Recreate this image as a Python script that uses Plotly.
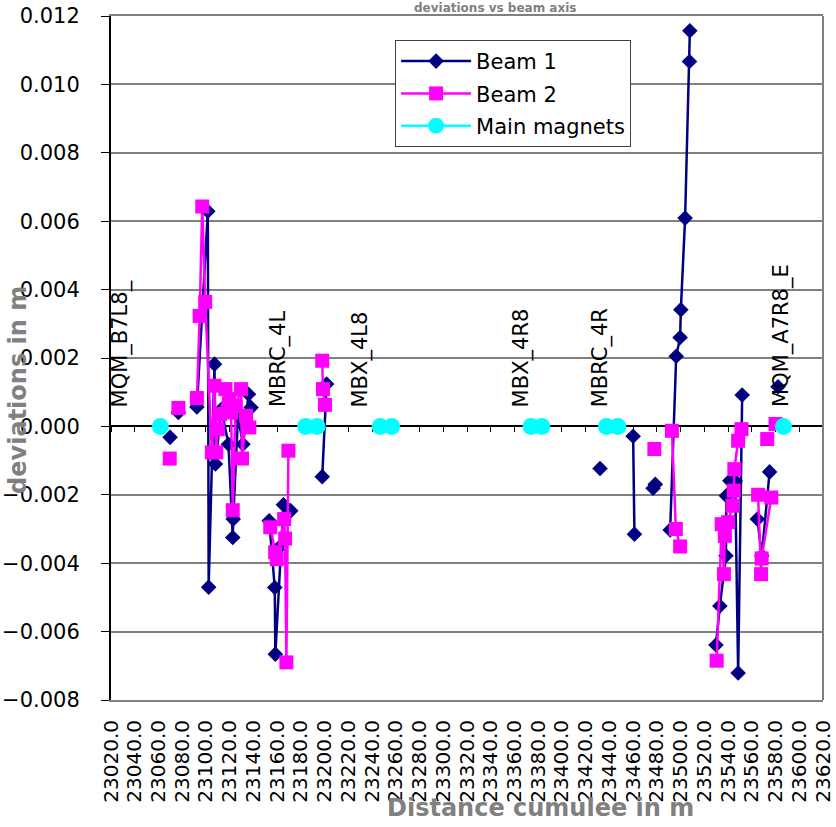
import plotly.graph_objects as go

# ---------------- data ----------------
beam1_x = [23069.8, None, 23076.8, None,
           23092.4, 23101.6, 23102.3, 23107.2, 23108.0, 23113.0, 23119.0, 23122.6, 23123.0, 23127.0, 23131.2, 23135.9, 23138.0, None,
           23153.3, 23158.0, 23158.5, 23163.0, 23165.3, 23171.5, None,
           23198.0, 23201.7, None,
           23432.1, None,
           23460.0, 23461.1, None,
           23476.8, 23478.7, None,
           23491.2, 23496.3, 23499.6, 23500.2, 23503.8, 23507.5, 23507.8, None,
           23529.8, 23533.1, 23538.2, 23538.6, 23541.5, 23546.0, 23548.5, 23551.9, None,
           23564.7, 23568.4, 23575.0, None,
           23582.1]
beam1_y = [-0.00032, None, 0.00041, None,
           0.00057, 0.00629, -0.0047, 0.00182, -0.0011, 0.0005, -0.00052, -0.00325, -0.00271, 0.0003, -0.00052, 0.00094, 0.00055, None,
           -0.00276, -0.00471, -0.00666, -0.0035, -0.00229, -0.00247, None,
           -0.00147, 0.00124, None,
           -0.00123, None,
           -0.00029, -0.00315, None,
           -0.00181, -0.00169, None,
           -0.00303, 0.00205, 0.0026, 0.00341, 0.00609, 0.01067, 0.01157, None,
           -0.00639, -0.00525, -0.00378, -0.00203, -0.00159, -0.0016, -0.00721, 0.00092, None,
           -0.00271, -0.00378, -0.00133, None,
           0.00116]

beam2_x = [23069.5, None, 23076.8, None,
           23092.4, 23094.7, 23096.9, 23099.4, 23105.0, 23107.2, 23108.7, 23110.0, 23112.0, 23116.4, 23119.8, 23121.2, 23122.6, 23125.0, 23129.6, 23130.4, 23133.8, 23136.6, None,
           23154.2, 23158.3, 23159.7, 23165.9, 23166.7, 23167.8, 23169.5, None,
           23198.0, 23198.6, 23200.3, None,
           23477.9, None,
           23492.7, 23496.0, 23499.6, None,
           23530.4, 23534.6, 23536.5, 23537.3, 23540.0, 23543.7, 23544.8, 23545.3, 23548.5, 23551.3, None,
           23565.3, 23567.8, 23568.3, 23576.4, None,
           23573.0, None,
           23580.0]
beam2_y = [-0.00094, None, 0.00054, None,
           0.00083, 0.00323, 0.00643, 0.00364, -0.00076, 0.00119, -0.00076, -0.00008, 0.00036, 0.00109, 0.0008, 0.00041, -0.00245, 0.0006, 0.00109, -0.00094, 0.00031, -0.00003, None,
           -0.00295, -0.00368, -0.00388, -0.00271, -0.00328, -0.0069, -0.00071, None,
           0.00192, 0.00109, 0.00063, None,
           -0.00066, None,
           -0.00013, -0.003, -0.00351, None,
           -0.00685, -0.00286, -0.00432, -0.0032, -0.0028, -0.00232, -0.00188, -0.00125, -0.00042, -0.00008, None,
           -0.002, -0.00432, -0.00386, -0.00208, None,
           -0.00037, None,
           0.00007]

magnets_x = [23061.6, None, 23184.0, 23193.7, None, 23246.8, 23256.5, None,
             23373.9, 23383.1, None, 23437.5, 23447.1, None, 23586.7]
magnets_y = [0.0, None, 0.0, 0.0, None, 0.0, 0.0, None,
             0.0, 0.0, None, 0.0, 0.0, None, 0.0]

magnet_labels = ["MQM_B7L8_", "MBRC_4L", "MBX_4L8", "MBX_4R8", "MBRC_4R", "MQM_A7R8_E"]
magnet_label_x = [23028.1, 23161.0, 23230.0, 23366.0, 23432.5, 23585.6]

title_text = "deviations vs beam axis"
x_title = "Distance cumulee in m"
y_title = "deviations in m"

# ---------------- figure ----------------
fig = go.Figure()
fig.add_trace(go.Scatter(
    x=beam1_x, y=beam1_y, mode="lines+markers", name="Beam 1", legendgroup="g1",
    line=dict(color="#000080", width=2.5),
    marker=dict(symbol="diamond", size=12, color="#000080"),
    connectgaps=False))
fig.add_trace(go.Scatter(
    x=beam2_x, y=beam2_y, mode="lines+markers", name="Beam 2", legendgroup="g2",
    line=dict(color="#FF00FF", width=2.5),
    marker=dict(symbol="square", size=14, color="#FF00FF"),
    connectgaps=False))
fig.add_trace(go.Scatter(
    x=magnets_x, y=magnets_y, mode="lines+markers", name="Main magnets", legendgroup="g3",
    line=dict(color="#00FFFF", width=2.5),
    marker=dict(symbol="circle", size=17, color="#00FFFF"),
    connectgaps=False))
# helper trace so the zero-crossing tick axis is drawn
fig.add_trace(go.Scatter(x=[None], y=[None], xaxis="x2", showlegend=False, hoverinfo="skip"))

annotations = []
for lbl, lx in zip(magnet_labels, magnet_label_x):
    annotations.append(dict(
        x=lx, y=0.0005, xref="x", yref="y", text=lbl, showarrow=False,
        textangle=-90, xanchor="center", yanchor="bottom",
        font=dict(family="DejaVu Sans", size=21, color="black")))

gray = "#808080"
annotations.append(dict(
    x=0.54, y=1.0, xref="paper", yref="paper", text="<b>" + title_text + "</b>",
    showarrow=False, xanchor="center", yanchor="bottom", borderpad=0,
    font=dict(family="DejaVu Sans", size=12, color=gray)))
annotations.append(dict(
    x=0.603, y=-0.158, xref="paper", yref="paper", text="<b>" + x_title + "</b>",
    showarrow=False, xanchor="center", yanchor="middle",
    font=dict(family="DejaVu Sans", size=24, color=gray)))
annotations.append(dict(
    x=-0.131, y=0.453, xref="paper", yref="paper", text="<b>" + y_title + "</b>",
    showarrow=False, textangle=-90, xanchor="center", yanchor="middle",
    font=dict(family="DejaVu Sans", size=24, color=gray)))

fig.update_layout(
    width=836, height=827,
    margin=dict(l=111, r=13, t=16, b=127, autoexpand=False),
    paper_bgcolor="white", plot_bgcolor="white",
    showlegend=True,
    xaxis=dict(
        range=[23020, 23620], tick0=23020, dtick=20, tickformat=".1f", tickangle=-90,
        showgrid=False, zeroline=False, showline=True, linecolor=gray, linewidth=2,
        mirror=True, ticks="", ticklabelstandoff=10, ticklabelshift=0,
        ticklabeloverflow="allow", automargin=False,
        tickfont=dict(family="DejaVu Sans", size=20, color="black")),
    xaxis2=dict(
        range=[23020, 23620], tick0=23020, dtick=20, overlaying="x", anchor="free",
        position=0.4, side="bottom", showline=True, linecolor="black", linewidth=1.5,
        ticks="outside", ticklen=5, tickcolor="black", tickwidth=1, automargin=False,
        showticklabels=False, showgrid=False, zeroline=False, layer="below traces"),
    yaxis=dict(
        range=[-0.008, 0.012], tick0=-0.008, dtick=0.002, tickformat=".3f",
        showgrid=True, gridcolor=gray, gridwidth=1.5, zeroline=False,
        showline=True, linecolor="black", linewidth=2, automargin=False,
        ticks="outside", ticklen=8, tickcolor="black", ticklabelstandoff=17,
        tickfont=dict(family="DejaVu Sans", size=21, color="black")),
    legend=dict(
        x=0.399, y=0.965, xanchor="left", yanchor="top",
        bgcolor="white", bordercolor="#404040", borderwidth=1,
        font=dict(family="DejaVu Sans", size=21, color="black"),
        itemwidth=70, tracegroupgap=2),
    shapes=[dict(type="line", xref="paper", yref="paper", x0=1, x1=1, y0=0, y1=1,
                 line=dict(color=gray, width=2))],
    annotations=annotations,
)

fig.write_html("out.html", config={"displayModeBar": False},
               post_script="document.body.style.margin='0';")
